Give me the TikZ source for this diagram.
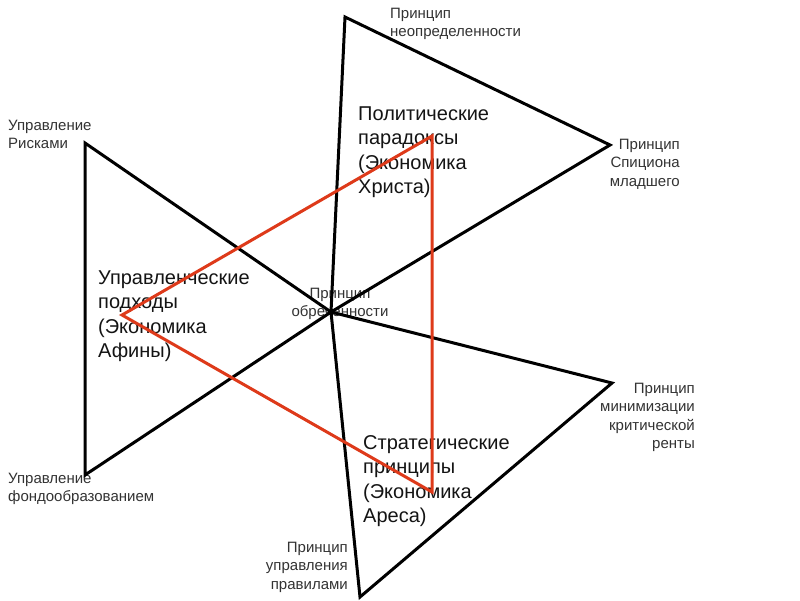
\documentclass[tikz,border=0pt]{standalone}
\usepackage{fontspec}
\setmainfont{Liberation Sans}
\begin{document}
\begin{tikzpicture}[x=1pt,y=-1pt,
  tri/.style={draw=black,line width=3pt,line join=miter},
  redtri/.style={draw={rgb,255:red,222;green,58;blue,26},line width=3pt,line join=miter},
  small/.style={inner sep=0pt,font=\fontsize{15}{18.5}\selectfont,text=black!80},
  big/.style={inner sep=0pt,font=\fontsize{20}{24.5}\selectfont,text=black!92,align=left,anchor=base west}]
\useasboundingbox (0,0) rectangle (800,600);
\fill[white] (0,0) rectangle (800,600);
% vertices
\coordinate (c) at (331,312);
\coordinate (l1) at (85,143);
\coordinate (l2) at (85,475);
\coordinate (t1) at (345,17);
\coordinate (t2) at (610,145);
\coordinate (b1) at (612,383);
\coordinate (b2) at (360,597);
\coordinate (r1) at (122,315);
\coordinate (r2) at (432,136);
\coordinate (r3) at (432,492);
% labels (anchor = baseline of last line)
\node[small,align=left,anchor=base west] (ur) at (8,148.5) {Управление\\Рисками};
\node[small,align=left,anchor=base west] (pn) at (390,36.5) {Принцип\\неопределенности};
\node[small,align=right,anchor=base east] (ps) at (680,186) {Принцип\\Спициона\\младшего};
\node[small,align=right,anchor=base east] (pm) at (695,448.5) {Принцип\\минимизации\\критической\\ренты};
\node[small,align=right,anchor=base east] (pp) at (348,589) {Принцип\\управления\\правилами};
\node[small,align=left,anchor=base west] (uf) at (8,501.5) {Управление\\фондообразованием};
\node[small,align=center,anchor=base] (po) at (340,316.5) {Принцип\\обреченности};
\node[big] (pol) at (358,193.5) {Политические\\парадоксы\\(Экономика\\Христа)};
\node[big] (upr) at (98,357.5) {Управленческие\\подходы\\(Экономика\\Афины)};
\node[big] (str) at (363,522.5) {Стратегические\\принципы\\(Экономика\\Ареса)};
% triangles
\draw[tri] (l1) -- (c) -- (l2) -- cycle;
\draw[tri] (t1) -- (t2) -- (c) -- cycle;
\draw[tri] (c) -- (b1) -- (b2) -- cycle;
\draw[redtri] (r1) -- (r2) -- (r3) -- cycle;
\end{tikzpicture}
\end{document}
